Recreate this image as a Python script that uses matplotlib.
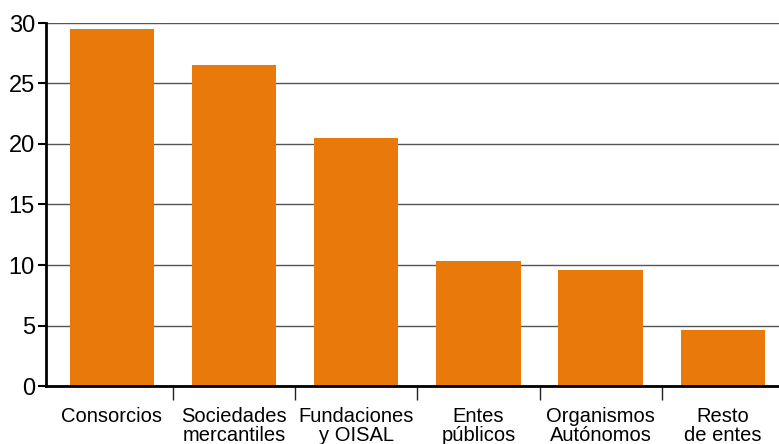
import numpy as np
import matplotlib.pyplot as plt
from matplotlib.ticker import FixedLocator

categorias = ["Consorcios", "Sociedades\nmercantiles", "Fundaciones\ny OISAL",
              "Entes\npúblicos", "Organismos\nAutónomos", "Resto\nde entes"]
valores = [29.5, 26.5, 20.5, 10.3, 9.6, 4.6]
yticks = [0, 5, 10, 15, 20, 25, 30]

plt.rcParams['font.family'] = ['Liberation Sans', 'DejaVu Sans']

fig = plt.figure(figsize=(7.79, 4.44), dpi=100)
ax = fig.add_axes([46/779, 1 - 386/444, 1 - 46/779, (386 - 23)/444])

x = np.arange(len(categorias))
ax.bar(x, valores, width=0.69, color='#E8790A', zorder=3)

ax.set_ylim(0, 30)
ax.set_xlim(-0.54, 5.46)
ax.set_yticks(yticks)
ax.yaxis.grid(True, color='#555555', linewidth=1, zorder=1)
ax.set_axisbelow(True)

ax.set_xticks(x)
ax.set_xticklabels(categorias, fontsize=14.5, linespacing=1.0, va='top')
ax.xaxis.set_minor_locator(FixedLocator(x[:-1] + 0.5))
ax.tick_params(axis='x', which='major', length=0, pad=15)
ax.tick_params(axis='x', which='minor', length=10, width=1, color='#222222', direction='out')
ax.tick_params(axis='y', labelsize=17, length=6, width=1.5, pad=2, direction='out')

for s in ['top', 'right']:
    ax.spines[s].set_visible(False)
for s in ['left', 'bottom']:
    ax.spines[s].set_linewidth(2)
    ax.spines[s].set_color('black')
    ax.spines[s].set_zorder(4)

fig.savefig('out.png', dpi=100)
